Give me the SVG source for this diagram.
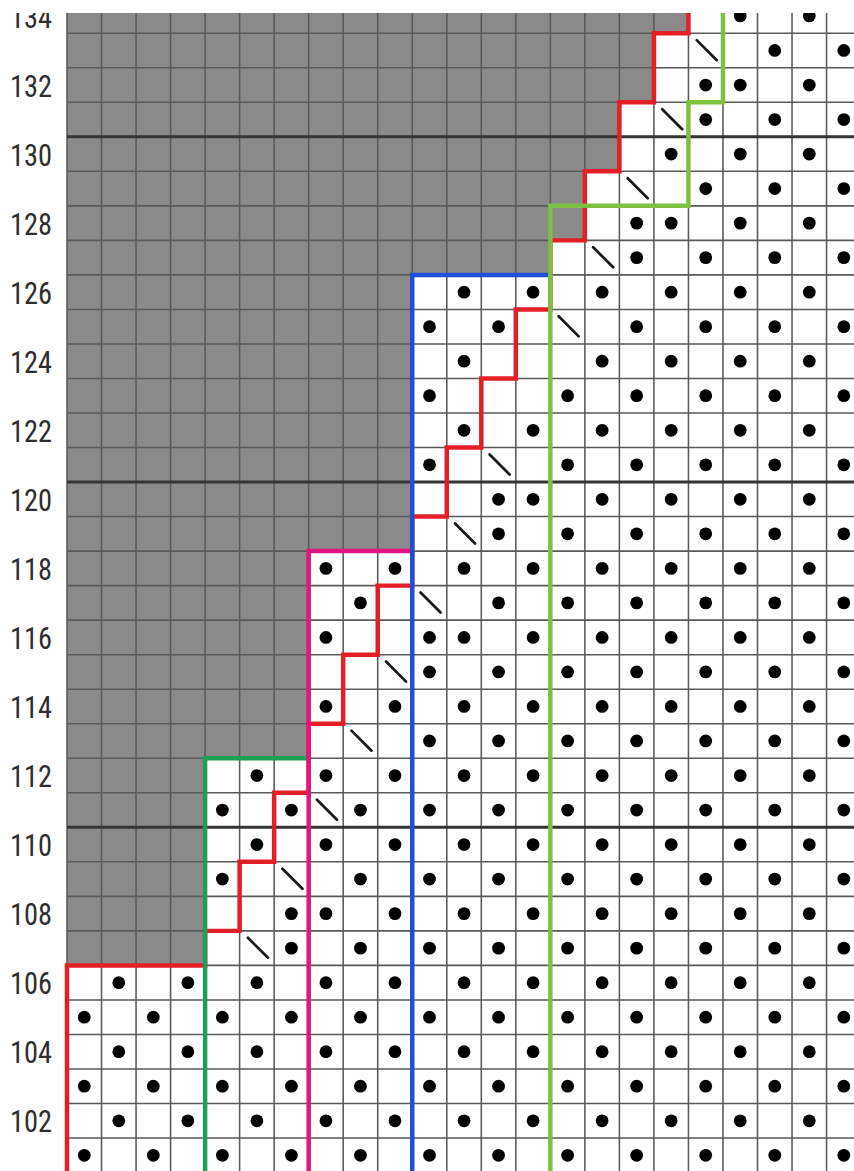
<svg xmlns="http://www.w3.org/2000/svg" xmlns:xlink="http://www.w3.org/1999/xlink" width="854" height="1171" viewBox="0 0 854 1171">
<defs>
<clipPath id="clip"><rect x="0" y="13" width="854" height="1158"/></clipPath>
<circle id="d" cx="0.5" cy="0.5" r="0.185"/>
<path id="s" d="M0.24 0.2L0.82 0.78"/>
</defs>
<style>
.bg{fill:#ffffff}
.shade{fill:#8a8a8a}
.grid{fill:none;stroke:#5a5a5a;stroke-width:0.045}
.major{fill:none;stroke:#353535;stroke-width:0.085}
.dots{fill:#000000}
.dec{fill:none;stroke:#1a1a1a;stroke-width:0.08;stroke-linecap:round}
.out{fill:none;stroke-width:0.13;stroke-linejoin:miter;stroke-linecap:butt}
.red{stroke:#e41e26}
.green{stroke:#1f9e55}
.pink{stroke:#e3147f}
.blue{stroke:#1f4fd6}
.lime{stroke:#7cc142}
.lbl{font-family:"Roboto Condensed","Liberation Sans Narrow","Liberation Sans",Arial,sans-serif;font-size:32px;fill:#2e2e2e}
</style>
<rect class="bg" x="0" y="0" width="854" height="1171"/>
<g clip-path="url(#clip)">
<g id="chart" transform="translate(67 -1.3) scale(34.525)">
<path id="unused-area" class="shade" d="M0 -1H18V1H17V3H16V5H15V7H14V8H10V16H7V22H4V28H0Z"/>
<path id="grid" class="grid" d="M0 0V35M1 0V35M2 0V35M3 0V35M4 0V35M5 0V35M6 0V35M7 0V35M8 0V35M9 0V35M10 0V35M11 0V35M12 0V35M13 0V35M14 0V35M15 0V35M16 0V35M17 0V35M18 0V35M19 0V35M20 0V35M21 0V35M22 0V35M0 1H23M0 2H23M0 3H23M0 4H23M0 5H23M0 6H23M0 7H23M0 8H23M0 9H23M0 10H23M0 11H23M0 12H23M0 13H23M0 14H23M0 15H23M0 16H23M0 17H23M0 18H23M0 19H23M0 20H23M0 21H23M0 22H23M0 23H23M0 24H23M0 25H23M0 26H23M0 27H23M0 28H23M0 29H23M0 30H23M0 31H23M0 32H23M0 33H23"/>
<path id="grid-major" class="major" d="M0 4H23M0 14H23M0 24H23"/>
<g id="purl-stitches" class="dots">
<g transform="translate(0 33)"><use href="#d" x="0"/><use href="#d" x="2"/><use href="#d" x="4"/><use href="#d" x="6"/><use href="#d" x="8"/><use href="#d" x="10"/><use href="#d" x="12"/><use href="#d" x="14"/><use href="#d" x="16"/><use href="#d" x="18"/><use href="#d" x="20"/><use href="#d" x="22"/></g>
<g transform="translate(0 32)"><use href="#d" x="1"/><use href="#d" x="3"/><use href="#d" x="5"/><use href="#d" x="7"/><use href="#d" x="9"/><use href="#d" x="11"/><use href="#d" x="13"/><use href="#d" x="15"/><use href="#d" x="17"/><use href="#d" x="19"/><use href="#d" x="21"/></g>
<g transform="translate(0 31)"><use href="#d" x="0"/><use href="#d" x="2"/><use href="#d" x="4"/><use href="#d" x="6"/><use href="#d" x="8"/><use href="#d" x="10"/><use href="#d" x="12"/><use href="#d" x="14"/><use href="#d" x="16"/><use href="#d" x="18"/><use href="#d" x="20"/><use href="#d" x="22"/></g>
<g transform="translate(0 30)"><use href="#d" x="1"/><use href="#d" x="3"/><use href="#d" x="5"/><use href="#d" x="7"/><use href="#d" x="9"/><use href="#d" x="11"/><use href="#d" x="13"/><use href="#d" x="15"/><use href="#d" x="17"/><use href="#d" x="19"/><use href="#d" x="21"/></g>
<g transform="translate(0 29)"><use href="#d" x="0"/><use href="#d" x="2"/><use href="#d" x="4"/><use href="#d" x="6"/><use href="#d" x="8"/><use href="#d" x="10"/><use href="#d" x="12"/><use href="#d" x="14"/><use href="#d" x="16"/><use href="#d" x="18"/><use href="#d" x="20"/><use href="#d" x="22"/></g>
<g transform="translate(0 28)"><use href="#d" x="1"/><use href="#d" x="3"/><use href="#d" x="5"/><use href="#d" x="7"/><use href="#d" x="9"/><use href="#d" x="11"/><use href="#d" x="13"/><use href="#d" x="15"/><use href="#d" x="17"/><use href="#d" x="19"/><use href="#d" x="21"/></g>
<g transform="translate(0 27)"><use href="#d" x="6"/><use href="#d" x="8"/><use href="#d" x="10"/><use href="#d" x="12"/><use href="#d" x="14"/><use href="#d" x="16"/><use href="#d" x="18"/><use href="#d" x="20"/><use href="#d" x="22"/></g>
<g transform="translate(0 26)"><use href="#d" x="6"/><use href="#d" x="7"/><use href="#d" x="9"/><use href="#d" x="11"/><use href="#d" x="13"/><use href="#d" x="15"/><use href="#d" x="17"/><use href="#d" x="19"/><use href="#d" x="21"/></g>
<g transform="translate(0 25)"><use href="#d" x="4"/><use href="#d" x="8"/><use href="#d" x="10"/><use href="#d" x="12"/><use href="#d" x="14"/><use href="#d" x="16"/><use href="#d" x="18"/><use href="#d" x="20"/><use href="#d" x="22"/></g>
<g transform="translate(0 24)"><use href="#d" x="5"/><use href="#d" x="7"/><use href="#d" x="9"/><use href="#d" x="11"/><use href="#d" x="13"/><use href="#d" x="15"/><use href="#d" x="17"/><use href="#d" x="19"/><use href="#d" x="21"/></g>
<g transform="translate(0 23)"><use href="#d" x="4"/><use href="#d" x="6"/><use href="#d" x="8"/><use href="#d" x="10"/><use href="#d" x="12"/><use href="#d" x="14"/><use href="#d" x="16"/><use href="#d" x="18"/><use href="#d" x="20"/><use href="#d" x="22"/></g>
<g transform="translate(0 22)"><use href="#d" x="5"/><use href="#d" x="7"/><use href="#d" x="9"/><use href="#d" x="11"/><use href="#d" x="13"/><use href="#d" x="15"/><use href="#d" x="17"/><use href="#d" x="19"/><use href="#d" x="21"/></g>
<g transform="translate(0 21)"><use href="#d" x="10"/><use href="#d" x="12"/><use href="#d" x="14"/><use href="#d" x="16"/><use href="#d" x="18"/><use href="#d" x="20"/><use href="#d" x="22"/></g>
<g transform="translate(0 20)"><use href="#d" x="7"/><use href="#d" x="9"/><use href="#d" x="11"/><use href="#d" x="13"/><use href="#d" x="15"/><use href="#d" x="17"/><use href="#d" x="19"/><use href="#d" x="21"/></g>
<g transform="translate(0 19)"><use href="#d" x="10"/><use href="#d" x="12"/><use href="#d" x="14"/><use href="#d" x="16"/><use href="#d" x="18"/><use href="#d" x="20"/><use href="#d" x="22"/></g>
<g transform="translate(0 18)"><use href="#d" x="7"/><use href="#d" x="10"/><use href="#d" x="11"/><use href="#d" x="13"/><use href="#d" x="15"/><use href="#d" x="17"/><use href="#d" x="19"/><use href="#d" x="21"/></g>
<g transform="translate(0 17)"><use href="#d" x="8"/><use href="#d" x="12"/><use href="#d" x="14"/><use href="#d" x="16"/><use href="#d" x="18"/><use href="#d" x="20"/><use href="#d" x="22"/></g>
<g transform="translate(0 16)"><use href="#d" x="7"/><use href="#d" x="9"/><use href="#d" x="11"/><use href="#d" x="13"/><use href="#d" x="15"/><use href="#d" x="17"/><use href="#d" x="19"/><use href="#d" x="21"/></g>
<g transform="translate(0 15)"><use href="#d" x="12"/><use href="#d" x="14"/><use href="#d" x="16"/><use href="#d" x="18"/><use href="#d" x="20"/><use href="#d" x="22"/></g>
<g transform="translate(0 14)"><use href="#d" x="12"/><use href="#d" x="13"/><use href="#d" x="15"/><use href="#d" x="17"/><use href="#d" x="19"/><use href="#d" x="21"/></g>
<g transform="translate(0 13)"><use href="#d" x="10"/><use href="#d" x="14"/><use href="#d" x="16"/><use href="#d" x="18"/><use href="#d" x="20"/><use href="#d" x="22"/></g>
<g transform="translate(0 12)"><use href="#d" x="11"/><use href="#d" x="13"/><use href="#d" x="15"/><use href="#d" x="17"/><use href="#d" x="19"/><use href="#d" x="21"/></g>
<g transform="translate(0 11)"><use href="#d" x="10"/><use href="#d" x="14"/><use href="#d" x="16"/><use href="#d" x="18"/><use href="#d" x="20"/><use href="#d" x="22"/></g>
<g transform="translate(0 10)"><use href="#d" x="11"/><use href="#d" x="15"/><use href="#d" x="17"/><use href="#d" x="19"/><use href="#d" x="21"/></g>
<g transform="translate(0 9)"><use href="#d" x="10"/><use href="#d" x="12"/><use href="#d" x="16"/><use href="#d" x="18"/><use href="#d" x="20"/><use href="#d" x="22"/></g>
<g transform="translate(0 8)"><use href="#d" x="11"/><use href="#d" x="13"/><use href="#d" x="15"/><use href="#d" x="17"/><use href="#d" x="19"/><use href="#d" x="21"/></g>
<g transform="translate(0 7)"><use href="#d" x="16"/><use href="#d" x="18"/><use href="#d" x="20"/><use href="#d" x="22"/></g>
<g transform="translate(0 6)"><use href="#d" x="16"/><use href="#d" x="17"/><use href="#d" x="19"/><use href="#d" x="21"/></g>
<g transform="translate(0 5)"><use href="#d" x="18"/><use href="#d" x="20"/><use href="#d" x="22"/></g>
<g transform="translate(0 4)"><use href="#d" x="17"/><use href="#d" x="19"/><use href="#d" x="21"/></g>
<g transform="translate(0 3)"><use href="#d" x="18"/><use href="#d" x="20"/><use href="#d" x="22"/></g>
<g transform="translate(0 2)"><use href="#d" x="18"/><use href="#d" x="19"/><use href="#d" x="21"/></g>
<g transform="translate(0 1)"><use href="#d" x="20"/><use href="#d" x="22"/></g>
<g transform="translate(0 0)"><use href="#d" x="19"/><use href="#d" x="21"/></g>
</g>
<g id="decreases" class="dec">
<use href="#s" x="5" y="27"/><use href="#s" x="6" y="25"/><use href="#s" x="7" y="23"/><use href="#s" x="8" y="21"/><use href="#s" x="9" y="19"/><use href="#s" x="10" y="17"/><use href="#s" x="11" y="15"/><use href="#s" x="12" y="13"/><use href="#s" x="14" y="9"/><use href="#s" x="15" y="7"/><use href="#s" x="16" y="5"/><use href="#s" x="17" y="3"/><use href="#s" x="18" y="1"/>
</g>
<g id="outlines">
<path id="line-red" class="out red" d="M0 35V28H4V27H5V25H6V23H7V21H8V19H9V17H10V15H11V13H12V11H13V9H14V7H15V5H16V3H17V1H18V-1"/>
<path id="line-green" class="out green" d="M4 35V22H7"/>
<path id="line-pink" class="out pink" d="M7 35V16H10"/>
<path id="line-blue" class="out blue" d="M10 35V8H14"/>
<path id="line-lime" class="out lime" d="M14 35V6H18V3H19V-1"/>
</g>
</g>
<g id="row-labels" class="lbl">
<text x="10" y="27.6" textLength="42" lengthAdjust="spacingAndGlyphs">134</text>
<text x="10" y="96.6" textLength="42" lengthAdjust="spacingAndGlyphs">132</text>
<text x="10" y="165.7" textLength="42" lengthAdjust="spacingAndGlyphs">130</text>
<text x="10" y="234.8" textLength="42" lengthAdjust="spacingAndGlyphs">128</text>
<text x="10" y="303.8" textLength="42" lengthAdjust="spacingAndGlyphs">126</text>
<text x="10" y="372.9" textLength="42" lengthAdjust="spacingAndGlyphs">124</text>
<text x="10" y="441.9" textLength="42" lengthAdjust="spacingAndGlyphs">122</text>
<text x="10" y="510.9" textLength="42" lengthAdjust="spacingAndGlyphs">120</text>
<text x="10" y="580" textLength="42" lengthAdjust="spacingAndGlyphs">118</text>
<text x="10" y="649.1" textLength="42" lengthAdjust="spacingAndGlyphs">116</text>
<text x="10" y="718.1" textLength="42" lengthAdjust="spacingAndGlyphs">114</text>
<text x="10" y="787.2" textLength="42" lengthAdjust="spacingAndGlyphs">112</text>
<text x="10" y="856.2" textLength="42" lengthAdjust="spacingAndGlyphs">110</text>
<text x="10" y="925.3" textLength="42" lengthAdjust="spacingAndGlyphs">108</text>
<text x="10" y="994.3" textLength="42" lengthAdjust="spacingAndGlyphs">106</text>
<text x="10" y="1063.4" textLength="42" lengthAdjust="spacingAndGlyphs">104</text>
<text x="10" y="1132.4" textLength="42" lengthAdjust="spacingAndGlyphs">102</text>
</g>
</g>
</svg>
